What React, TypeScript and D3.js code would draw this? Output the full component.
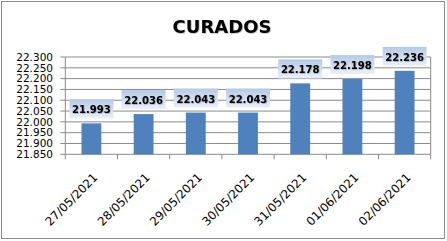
import React from "react";
import * as d3 from "d3";

const categories = ["27/05/2021", "28/05/2021", "29/05/2021", "30/05/2021", "31/05/2021", "01/06/2021", "02/06/2021"];
const values = [21.993, 22.036, 22.043, 22.043, 22.178, 22.198, 22.236];
const yTicks = [21.85, 21.9, 21.95, 22.0, 22.05, 22.1, 22.15, 22.2, 22.25, 22.3];
const title = "CURADOS";

const W = 447;
const H = 241;
const left = 65.3;
const right = 430.7;
const top = 57;
const bottom = 154.3;

export default function App() {
  const x = d3.scaleBand<string>().domain(categories).range([left, right]).paddingInner(0.62).paddingOuter(0.31);
  const xs = d3.scaleBand<string>().domain(categories).range([left, right]);
  const y = d3.scaleLinear().domain([21.85, 22.3]).range([bottom, top]);
  const fmt = d3.format(".3f");
  const boxW = 44;
  const boxH = 19;
  const font = "'DejaVu Sans', Verdana, sans-serif";
  return (
    <div style={{ position: "fixed", left: 0, top: 0 }}>
      <svg width={W} height={H} style={{ display: "block" }}>
        <defs>
          <linearGradient id="lblg" x1="0" y1="0" x2="0" y2="1">
            <stop offset="0" stopColor="#b5cae6" />
            <stop offset="1" stopColor="#eaf0f9" />
          </linearGradient>
          <filter id="shadow" x="-10%" y="-10%" width="120%" height="130%">
            <feDropShadow dx="0.6" dy="0.6" stdDeviation="0.5" floodColor="#000" floodOpacity="0.35" />
          </filter>
        </defs>
        <rect x={0} y={0} width={W} height={H} fill="#fff" />
        <rect x={1.5} y={1.5} width={443} height={237} fill="none" stroke="#8c8c8c" strokeWidth={1} />
        <text x={222} y={33} textAnchor="middle" fontFamily={font} fontWeight="bold" fontSize={18} fill="#000" filter="url(#shadow)">
          {title}
        </text>
        {yTicks.map((t) => (
          <g key={t}>
            <line x1={left - 5} x2={right} y1={y(t)} y2={y(t)} stroke="#8a8a8a" strokeWidth={1} />
            <text x={53} y={y(t) + 3.8} textAnchor="end" fontFamily={font} fontSize={10.5} fill="#000">
              {fmt(t)}
            </text>
          </g>
        ))}
        <line x1={left} x2={left} y1={top} y2={bottom} stroke="#8a8a8a" />
        <line x1={right} x2={right} y1={top} y2={bottom} stroke="#8a8a8a" />
        {categories.map((c, i) => (
          <line key={"t" + i} x1={xs(c)!} x2={xs(c)!} y1={bottom} y2={bottom + 5} stroke="#8a8a8a" />
        ))}
        <line x1={right} x2={right} y1={bottom} y2={bottom + 5} stroke="#8a8a8a" />
        {categories.map((c, i) => (
          <rect key={"b" + i} x={x(c)!} y={y(values[i])} width={x.bandwidth()} height={bottom - y(values[i])} fill="#4f81bd" />
        ))}
        {categories.map((c, i) => {
          const cx = x(c)! + x.bandwidth() / 2;
          const by = y(values[i]) - 5;
          return (
            <g key={"l" + i}>
              <rect x={cx - boxW / 2} y={by - boxH} width={boxW} height={boxH} fill="url(#lblg)" />
              <text x={cx} y={by - 5} textAnchor="middle" fontFamily={font} fontWeight="bold" fontSize={10} fill="#000" filter="url(#shadow)">
                {values[i].toFixed(3)}
              </text>
            </g>
          );
        })}
        {categories.map((c, i) => {
          const cx = x(c)! + x.bandwidth() / 2 + 7;
          return (
            <text key={"x" + i} transform={`translate(${cx},${bottom + 24}) rotate(-45)`} textAnchor="end" fontFamily={font} fontSize={11.8} fill="#000">
              {c}
            </text>
          );
        })}
      </svg>
    </div>
  );
}
